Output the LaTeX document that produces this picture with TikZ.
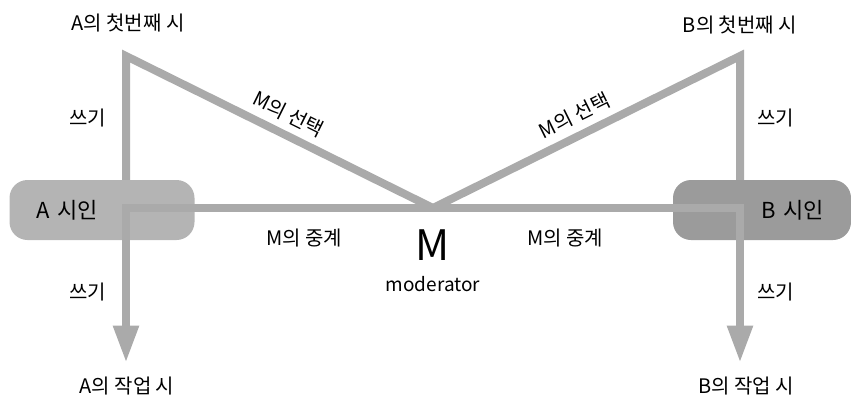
\documentclass[tikz,border=0pt]{standalone}
\usepackage{fontspec}
\setmainfont{Noto Sans CJK KR}
\usetikzlibrary{arrows.meta, positioning, calc}

\definecolor{lineGray}{HTML}{AAAAAA}
\definecolor{boxA}{HTML}{B4B4B4}
\definecolor{boxB}{HTML}{9B9B9B}

\begin{document}
\begin{tikzpicture}[
		x=1pt, y=-1pt,
		% Style for the labels
		lbl/.style={font=\fontsize{20}{23}\selectfont, inner sep=1pt},
		% Style for the poet boxes
		poet/.style={rounded corners=18pt, minimum height=60pt, inner xsep=27pt,
			font=\fontsize{22}{25}\selectfont},
		% Thick gray flows
		flow/.style={draw=lineGray, line width=8pt, line join=miter},
		flowArrow/.style={flow, -{Triangle[width=24pt, length=37pt]}}
		]
		
		\useasboundingbox (0,0) rectangle (851,402);
		
		% ==============================================================================
		% POETS
		% ==============================================================================
		\node[poet, fill=boxA, text width=131pt, align=left] (Apoet) at (102,210) {A 시인};
		\node[poet, fill=boxB, text width=124pt, align=right] (Bpoet) at (762,210) {B 시인};
		
		% --- Poems ---
		\node[lbl] (Afirst) at (128,23) {A의 첫번째 시};
		\node[lbl] (Bfirst) at (740,25) {B의 첫번째 시};
		\node[lbl] (Awork) at (127,386) {A의 작업 시};
		\node[lbl] (Bwork) at (746,386) {B의 작업 시};
		
		% --- Moderator ---
		\node[font=\fontsize{42}{42}\selectfont, inner sep=0pt] (M) at (433,245) {M};
		\node[font=\fontsize{19}{22}\selectfont, inner sep=1pt] (mod) at (433,284) {moderator};
		
		\coordinate (Acorner) at (126,56);
		\coordinate (Bcorner) at (740,56);
		\coordinate (Mc) at (433,208);
		
		% ==============================================================================
		% FLOWS
		% ==============================================================================
		
		% === Poet A ===
		\draw[flow] (Acorner |- Apoet.north) -- node[lbl, left=15pt] {쓰기} (Acorner)
			-- node[lbl, sloped, above=6pt, pos=0.5] {M의 선택} (Mc);
		\draw[flowArrow, shorten >=13pt] (Mc) -- node[lbl, below=16pt, pos=0.42] {M의 중계} (Mc -| Acorner)
			-- node[lbl, left=15pt] {쓰기} (Acorner |- Awork.north);
		
		% === Poet B ===
		\draw[flow] (Bcorner |- Bpoet.north) -- node[lbl, right=12pt] {쓰기} (Bcorner)
			-- node[lbl, sloped, above=6pt, pos=0.51] {M의 선택} (Mc);
		\draw[flowArrow, shorten >=13pt] (Mc) -- node[lbl, below=16pt, pos=0.43] {M의 중계} (Mc -| Bcorner)
			-- node[lbl, right=12pt] {쓰기} (Bcorner |- Bwork.north);
		
	\end{tikzpicture}
\end{document}
